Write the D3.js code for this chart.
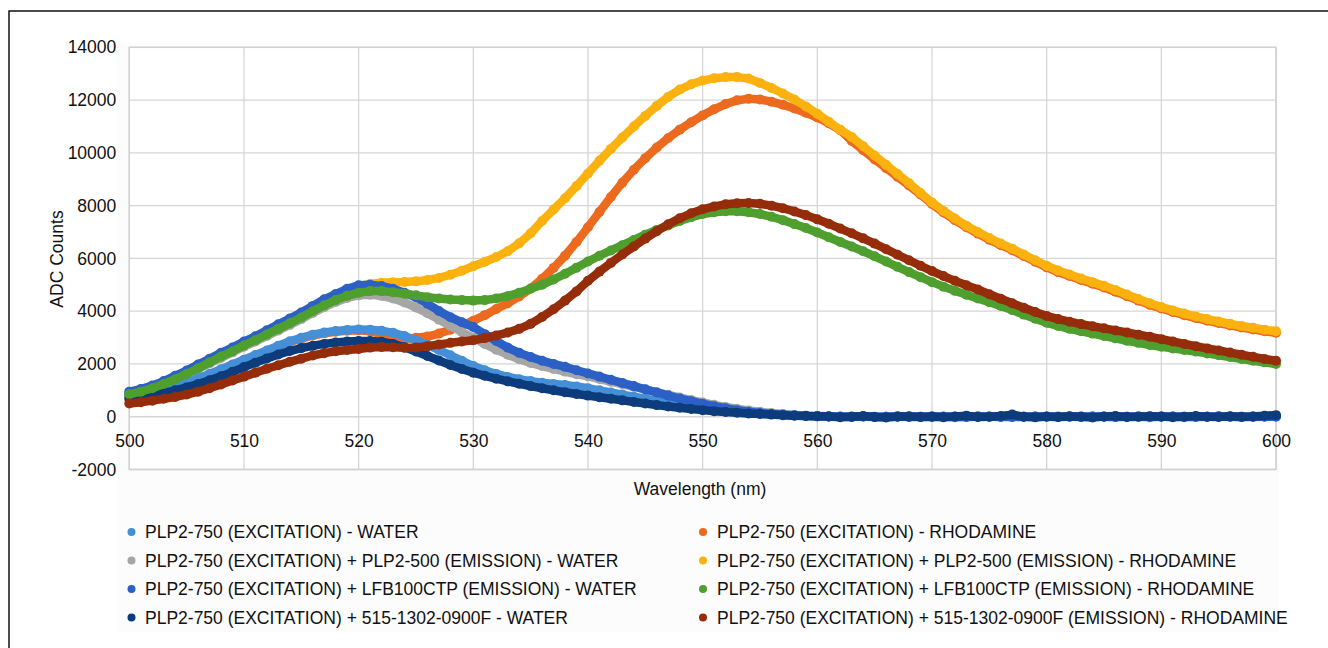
<!DOCTYPE html>
<html>
<head>
<meta charset="utf-8">
<script src="https://cdnjs.cloudflare.com/ajax/libs/d3/7.8.5/d3.min.js"></script>
<style>
body{margin:0;background:#fff}
text{font-family:"Liberation Sans",Arial,sans-serif;fill:#111}
</style>
</head>
<body>
<div id="chart"></div>
<script>
// wavelength (nm)
var wavelength = [500,501,502,503,504,505,506,507,508,509,510,511,512,513,514,515,516,517,518,519,
520,521,522,523,524,525,526,527,528,529,530,531,532,533,534,535,536,537,538,539,
540,541,542,543,544,545,546,547,548,549,550,551,552,553,554,555,556,557,558,559,
560,561,562,563,564,565,566,567,568,569,570,571,572,573,574,575,576,577,578,579,
580,581,582,583,584,585,586,587,588,589,590,591,592,593,594,595,596,597,598,599,600]

// ADC counts, one value per nm
var excWater = [800,870,950,1040,1150,1290,1450,1620,1800,1980,
2160,2340,2510,2690,2860,2990,3110,3190,3250,3290,
3310,3300,3260,3180,3060,2900,2720,2530,2330,2120,
1920,1760,1620,1510,1420,1350,1290,1240,1200,1150,
1080,1000,920,840,760,680,600,530,460,400,
340,290,240,200,160,130,100,80,60,40,
30,20,10,0,10,-10,0,20,0,-10,
10,0,-20,0,20,0,-10,10,0,-20,
0,10,0,-10,20,0,-10,0,10,-20,
0,10,0,-10,0,20,0,-10,10,0,20]

var plp500Water = [880,960,1080,1230,1400,1600,1800,2020,2230,2440,
2650,2850,3060,3270,3480,3700,3930,4150,4350,4500,
4600,4620,4580,4480,4330,4140,3920,3680,3440,3210,
2990,2760,2540,2350,2180,2040,1920,1810,1710,1610,
1530,1430,1330,1230,1130,1030,930,830,730,630,
540,450,370,300,240,190,140,100,70,40,
20,10,0,10,0,-10,0,10,0,0,
0,10,-10,0,10,0,0,-10,0,10,
0,0,10,-10,0,0,10,0,-10,0,
10,0,0,-10,0,10,0,0,-10,0,10]

var lfbWater = [950,1050,1180,1350,1550,1750,1980,2200,2420,2620,
2850,3050,3280,3500,3720,3950,4200,4450,4650,4850,
4980,5000,4950,4850,4700,4530,4280,4010,3770,3580,
3400,3130,2870,2620,2420,2260,2120,2000,1890,1760,
1640,1520,1400,1280,1160,1040,920,800,690,590,
490,400,320,250,190,140,100,70,50,30,
20,10,0,-10,10,0,0,10,-10,0,
10,0,0,-10,0,10,0,-10,0,10,
0,-10,0,10,0,0,-10,0,10,0,
0,10,-10,0,0,10,0,-10,0,10,0]

var f515Water = [680,740,810,900,1000,1110,1240,1380,1530,1700,
1880,2050,2210,2360,2490,2600,2690,2760,2810,2850,
2870,2870,2840,2760,2630,2470,2300,2130,1960,1810,
1670,1550,1440,1340,1250,1160,1080,1000,930,860,
800,740,680,620,560,500,440,390,340,290,
250,210,180,150,120,100,80,60,40,30,
20,10,-20,0,30,-10,-30,0,20,-10,
0,-20,10,40,-10,0,30,80,0,-20,
10,-10,20,0,-30,10,30,-10,0,20,
10,-20,0,30,0,-10,20,0,10,40,60]

var excRhod = [770,840,920,1010,1120,1260,1420,1590,1770,1950,
2130,2310,2480,2660,2830,2960,3080,3160,3220,3260,
3280,3240,3120,2900,2940,2990,3040,3150,3300,3460,
3640,3850,4080,4300,4560,4860,5230,5640,6100,6620,
7180,7760,8330,8870,9360,9800,10200,10560,10880,11160,
11420,11650,11850,11990,12050,12020,11940,11820,11680,11520,
11340,11120,10860,10450,10100,9750,9420,9090,8760,8420,
8060,7740,7450,7180,6940,6710,6500,6310,6090,5870,
5660,5480,5330,5180,5040,4900,4740,4570,4400,4240,
4100,3970,3850,3740,3640,3550,3460,3380,3310,3240,3180]

var plp500Rhod = [920,1020,1150,1320,1520,1720,1950,2170,2390,2590,
2820,3020,3250,3470,3690,3920,4170,4420,4620,4820,
4950,5030,5080,5100,5110,5130,5180,5260,5380,5530,
5700,5870,6050,6270,6570,6950,7420,7850,8280,8740,
9220,9700,10150,10580,11000,11400,11780,12120,12400,12600,
12740,12830,12870,12870,12820,12650,12460,12250,12020,11760,
11480,11180,10880,10600,10250,9900,9550,9200,8850,8480,
8120,7800,7510,7240,7000,6770,6560,6370,6150,5930,
5720,5540,5390,5240,5100,4960,4800,4630,4460,4300,
4160,4030,3910,3800,3700,3610,3520,3440,3370,3300,3240]

var lfbRhod = [850,950,1080,1240,1420,1620,1840,2060,2280,2480,
2700,2900,3120,3330,3540,3760,4000,4220,4420,4580,
4700,4760,4760,4720,4660,4600,4530,4480,4440,4420,
4400,4420,4480,4570,4700,4850,5000,5200,5420,5650,
5880,6100,6300,6500,6700,6900,7080,7250,7420,7560,
7680,7750,7790,7790,7750,7680,7580,7450,7300,7150,
6980,6800,6620,6450,6270,6080,5880,5680,5480,5290,
5100,4930,4770,4620,4480,4340,4200,4040,3870,3710,
3560,3440,3330,3240,3150,3060,2970,2880,2800,2720,
2650,2590,2530,2470,2400,2330,2260,2190,2120,2060,2000]

var f515Rhod = [500,550,610,680,750,840,950,1080,1220,1370,
1520,1670,1820,1950,2080,2200,2320,2410,2480,2530,
2570,2620,2640,2630,2610,2620,2670,2740,2800,2850,
2900,2980,3080,3190,3330,3520,3780,4070,4400,4750,
5150,5500,5830,6150,6450,6750,7030,7290,7520,7710,
7860,7970,8050,8090,8100,8070,8000,7900,7780,7640,
7480,7310,7130,6950,6760,6560,6350,6140,5930,5720,
5520,5330,5150,4980,4820,4640,4470,4300,4130,3970,
3820,3700,3600,3510,3430,3350,3270,3190,3110,3030,
2940,2850,2760,2670,2590,2510,2430,2350,2270,2190,2120]

var legendNames = ["PLP2-750 (EXCITATION) - WATER",
	"PLP2-750 (EXCITATION) + PLP2-500 (EMISSION) - WATER",
	"PLP2-750 (EXCITATION) + LFB100CTP (EMISSION) - WATER",
	"PLP2-750 (EXCITATION) + 515-1302-0900F - WATER",
	"PLP2-750 (EXCITATION) - RHODAMINE",
	"PLP2-750 (EXCITATION) + PLP2-500 (EMISSION) - RHODAMINE",
	"PLP2-750 (EXCITATION) + LFB100CTP (EMISSION) - RHODAMINE",
	"PLP2-750 (EXCITATION) + 515-1302-0900F (EMISSION) - RHODAMINE"]
var seriesValues = [excWater,plp500Water,lfbWater,f515Water,excRhod,plp500Rhod,lfbRhod,f515Rhod]
var colors = ["#448fd8","#a6a6a6","#2c60c6","#0c3c7c","#ec6a1e","#fbb20e","#4f9f2f","#952c0a"]
// order the series are painted in (later ones on top)
var drawOrder = [4,5,1,0,2,3,6,7]

var xTicks = [500,510,520,530,540,550,560,570,580,590,600]
var yTicks = [-2000,0,2000,4000,6000,8000,10000,12000,14000]

var width = 1328, height = 648
var svg = d3.select("#chart").append("svg").attr("width",width).attr("height",height)

//outer frame (cropped at right and bottom)
svg.append("path").attr("d","M9,648V11H1328").attr("fill","none").attr("stroke","#111").attr("stroke-width",1.5)
svg.append("rect").attr("x",118).attr("y",43).attr("width",1161).attr("height",589).attr("fill","#fcfcfc")

//scales
var x = d3.scaleLinear().domain([500,600]).range([129.3,1276])
var y = d3.scaleLinear().domain([-2000,14000]).range([469.5,47.3])

svg.append("rect").attr("x",x(500)).attr("y",y(14000)).attr("width",x(600)-x(500)).attr("height",y(-2000)-y(14000))
	.attr("fill","#fff")

//grid
var grid = svg.append("g").attr("class","grid")
grid.selectAll("line.h").data(yTicks).enter().append("line").attr("class","h")
	.attr("x1",x(500)).attr("x2",x(600)).attr("y1",function(d){return y(d)}).attr("y2",function(d){return y(d)})
	.attr("stroke","#d6d6d6").attr("stroke-width",1.3)
grid.selectAll("line.v").data(xTicks).enter().append("line").attr("class","v")
	.attr("y1",y(14000)).attr("y2",y(-2000)).attr("x1",function(d){return x(d)}).attr("x2",function(d){return x(d)})
	.attr("stroke","#d6d6d6").attr("stroke-width",1.3)
svg.append("rect").attr("x",x(500)).attr("y",y(14000)).attr("width",x(600)-x(500)).attr("height",y(-2000)-y(14000))
	.attr("fill","none").attr("stroke","#d2d2d2").attr("stroke-width",1.5)

//axes (labels only)
var plain = function(d){return String(d)}
var xAxis = svg.append("g").attr("transform","translate(0,"+y(0)+")")
	.call(d3.axisBottom(x).tickValues(xTicks).tickSize(0).tickPadding(18).tickFormat(plain))
var yAxis = svg.append("g").attr("transform","translate("+x(500)+",0)")
	.call(d3.axisLeft(y).tickValues(yTicks).tickSize(0).tickPadding(13).tickFormat(plain))
svg.selectAll(".domain").remove()
svg.selectAll(".tick text").style("font-size","17.5px").attr("fill","#111").style("font-family","'Liberation Sans',Arial,sans-serif")

svg.append("text").attr("x",700).attr("y",489).attr("dy","0.35em").attr("text-anchor","middle")
	.style("font-size","17.5px").text("Wavelength (nm)")
svg.append("text").attr("transform","translate(57,259) rotate(-90)").attr("dy","0.35em").attr("text-anchor","middle")
	.style("font-size","17.5px").text("ADC Counts")

//series
var line = d3.line().x(function(d){return x(d[0])}).y(function(d){return y(d[1])})
drawOrder.forEach(function(s) {
	var pts = wavelength.map(function(w,i){return [w,seriesValues[s][i]]})
	var g = svg.append("g").attr("class","series s"+s)
	g.append("path").datum(pts).attr("d",line).attr("fill","none")
		.attr("stroke",colors[s]).attr("stroke-width",8.5).attr("stroke-linejoin","round").attr("stroke-linecap","round")
	g.selectAll("circle").data(pts).enter().append("circle")
		.attr("cx",function(d){return x(d[0])}).attr("cy",function(d){return y(d[1])})
		.attr("r",5).attr("fill",colors[s])
})

//legend
var legendX = [131.5,703], textX = [145,717], legendY = [532,560.5,589,617.5]
var legend = svg.append("g").attr("class","legend")
legendNames.forEach(function(name,i) {
	var col = Math.floor(i/4), row = i%4
	legend.append("circle").attr("cx",legendX[col]).attr("cy",legendY[row]).attr("r",4).attr("fill",colors[i])
	legend.append("text").attr("x",textX[col]).attr("y",legendY[row]).attr("dy","0.35em")
		.style("font-size","17.5px").text(name)
})
</script>
</body>
</html>
